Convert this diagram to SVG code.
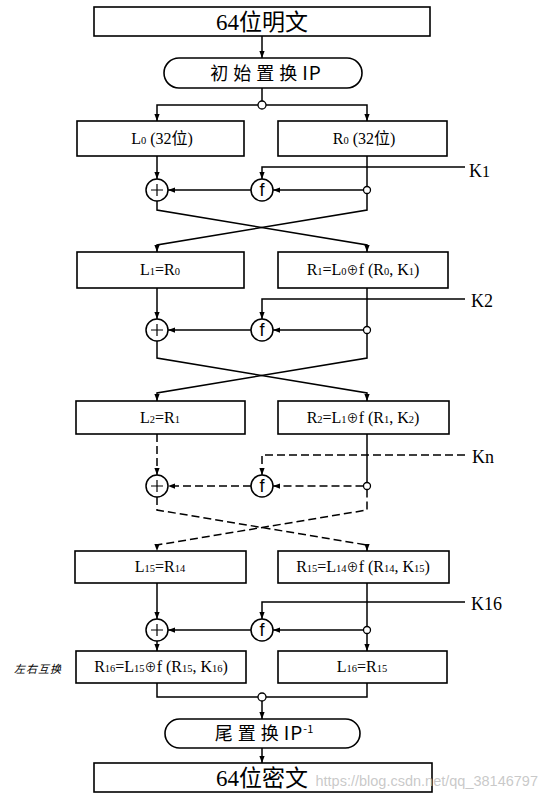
<svg xmlns="http://www.w3.org/2000/svg" width="546" height="800" viewBox="0 0 546 800">
<defs>
<marker id="ah" viewBox="0 0 8 6" refX="8" refY="3" markerWidth="7" markerHeight="6" markerUnits="userSpaceOnUse" orient="auto">
<path d="M0,0 L8,3 L0,6 z" fill="#000"/>
</marker>
<style>
.bx{fill:#fff;stroke:#000;stroke-width:1.6}
.ln{fill:none;stroke:#000;stroke-width:1.5}
.ar{fill:none;stroke:#000;stroke-width:1.5;marker-end:url(#ah)}
.dl{stroke-dasharray:8 4}
.op{fill:#fff;stroke:#000;stroke-width:1.5}
.pl{fill:none;stroke:#000;stroke-width:1.2}
.dot{fill:#fff;stroke:#000;stroke-width:1.3}
.t{font-family:"Liberation Serif","Noto Sans CJK SC",serif;font-size:16px;text-anchor:middle;fill:#000}
.big{font-family:"Liberation Serif","Noto Sans CJK SC",serif;font-size:23px;text-anchor:middle;fill:#000}
.pill{font-family:"Noto Sans CJK SC","Liberation Sans",sans-serif;font-size:18px;text-anchor:middle;fill:#000;letter-spacing:5px}
.lat{letter-spacing:1px;font-size:19px}
.k{font-family:"Liberation Serif",serif;font-size:18px;fill:#000}
.f{font-family:"Liberation Sans",sans-serif;font-size:18px;text-anchor:middle;fill:#000}
.s{font-size:10.5px}
.ox{font-size:12px}
.side{font-family:"Noto Sans CJK SC",sans-serif;font-size:11px;font-style:italic;fill:#000;letter-spacing:1px}
.wm{font-family:"Liberation Sans",sans-serif;font-size:14.5px;fill:#bbb;fill-opacity:0.8;text-anchor:end}
</style>
</defs>

<g id="plaintext"><rect class="bx" x="94" y="7" width="336" height="29"/><text class="big" x="262" y="30">64位明文</text></g>
<g id="ip"><rect class="bx" x="164" y="58" width="198" height="30" rx="15"/><text class="pill" x="266" y="80">初始置换<tspan class="lat">IP</tspan></text></g>

<g id="L0"><rect class="bx" x="77" y="121" width="167" height="35"/><text class="t" x="162" y="144">L<tspan class="s">0</tspan> (32位)</text></g>
<g id="R0"><rect class="bx" x="278" y="121" width="169" height="35"/><text class="t" x="364" y="144">R<tspan class="s">0</tspan> (32位)</text></g>

<g id="L1"><rect class="bx" x="77" y="252" width="167" height="36"/><text class="t" x="160" y="275">L<tspan class="s">1</tspan>=R<tspan class="s">0</tspan></text></g>
<g id="R1"><rect class="bx" x="278" y="252" width="170" height="36"/><text class="t" x="363" y="275">R<tspan class="s">1</tspan>=L<tspan class="s">0</tspan><tspan class="ox">⊕</tspan>f (R<tspan class="s">0</tspan>, K<tspan class="s">1</tspan>)</text></g>

<g id="L2"><rect class="bx" x="76" y="401" width="169" height="33"/><text class="t" x="160" y="423">L<tspan class="s">2</tspan>=R<tspan class="s">1</tspan></text></g>
<g id="R2"><rect class="bx" x="278" y="401" width="171" height="33"/><text class="t" x="363" y="423">R<tspan class="s">2</tspan>=L<tspan class="s">1</tspan><tspan class="ox">⊕</tspan>f (R<tspan class="s">1</tspan>, K<tspan class="s">2</tspan>)</text></g>

<g id="L15"><rect class="bx" x="75" y="551" width="171" height="32"/><text class="t" x="160" y="572">L<tspan class="s">15</tspan>=R<tspan class="s">14</tspan></text></g>
<g id="R15"><rect class="bx" x="278" y="551" width="171" height="32"/><text class="t" x="363" y="572">R<tspan class="s">15</tspan>=L<tspan class="s">14</tspan><tspan class="ox">⊕</tspan>f (R<tspan class="s">14</tspan>, K<tspan class="s">15</tspan>)</text></g>

<g id="R16"><rect class="bx" x="76" y="651" width="170" height="32"/><text class="t" x="161" y="672">R<tspan class="s">16</tspan>=L<tspan class="s">15</tspan><tspan class="ox">⊕</tspan>f (R<tspan class="s">15</tspan>, K<tspan class="s">16</tspan>)</text></g>
<g id="L16"><rect class="bx" x="278" y="651" width="169" height="32"/><text class="t" x="362" y="672">L<tspan class="s">16</tspan>=R<tspan class="s">15</tspan></text></g>
<g id="swap-label"><text class="side" x="14" y="673">左右互换</text></g>

<g id="fp"><rect class="bx" x="165" y="719" width="195" height="29" rx="14.5"/><text class="pill" x="264" y="740">尾置换<tspan class="lat">IP</tspan><tspan font-size="11" letter-spacing="0" dy="-7">-1</tspan></text></g>
<g id="ciphertext"><rect class="bx" x="94" y="763" width="338" height="29"/><text class="big" x="262" y="786">64位密文</text></g>

<g id="keys">
<text class="k" x="469" y="177">K<tspan font-size="16">1</tspan></text>
<text class="k" x="471" y="307">K2</text>
<text class="k" x="472" y="463">Kn</text>
<text class="k" x="471" y="610">K16</text>
</g>

<g id="connectors">
<line class="ar" x1="262" y1="36" x2="262" y2="58"/>
<line class="ln" x1="262" y1="88" x2="262" y2="101"/>
<polyline class="ar" points="258,105 157,105 157,121"/>
<polyline class="ar" points="266,105 367,105 367,121"/>

<line class="ar" x1="157" y1="156" x2="157" y2="179"/>
<line class="ln" x1="367" y1="156" x2="367" y2="186.5"/>
<line class="ar" x1="363.5" y1="190" x2="273" y2="190"/>
<line class="ar" x1="251" y1="190" x2="168" y2="190"/>
<polyline class="ar" points="465,167 262,167 262,179"/>
<polyline class="ar" points="157,201 157,210 367,245 367,252"/>
<polyline class="ar" points="367,193.5 367,210 157,245 157,252"/>

<line class="ar" x1="157" y1="288" x2="157" y2="319"/>
<line class="ln" x1="367" y1="288" x2="367" y2="326.5"/>
<line class="ar" x1="363.5" y1="330" x2="273" y2="330"/>
<line class="ar" x1="251" y1="330" x2="168" y2="330"/>
<polyline class="ar" points="465,299 262,299 262,319"/>
<polyline class="ar" points="157,341 157,358 367,393 367,401"/>
<polyline class="ar" points="367,333.5 367,358 157,393 157,401"/>

<line class="ar dl" x1="157" y1="434" x2="157" y2="475"/>
<line class="ln" x1="367" y1="434" x2="367" y2="482.5"/>
<line class="ar dl" x1="363.5" y1="486" x2="273" y2="486"/>
<line class="ar dl" x1="251" y1="486" x2="168" y2="486"/>
<polyline class="ar dl" points="465,455 262,455 262,475"/>
<polyline class="ar dl" points="157,497 157,510 367,545 367,551"/>
<polyline class="ar dl" points="367,489.5 367,510 157,545 157,551"/>

<line class="ar" x1="157" y1="583" x2="157" y2="619"/>
<line class="ln" x1="367" y1="583" x2="367" y2="626.5"/>
<line class="ar" x1="363.5" y1="630" x2="273" y2="630"/>
<line class="ar" x1="251" y1="630" x2="168" y2="630"/>
<polyline class="ar" points="465,602 262,602 262,619"/>
<line class="ar" x1="157" y1="641" x2="157" y2="651"/>
<line class="ar" x1="367" y1="633.5" x2="367" y2="651"/>

<polyline class="ln" points="157,683 157,697 258,697"/>
<polyline class="ln" points="367,683 367,697 266,697"/>
<line class="ar" x1="262" y1="701" x2="262" y2="719"/>
<line class="ar" x1="262" y1="748" x2="262" y2="763"/>
</g>

<g id="operators">
<circle class="dot" cx="262" cy="105" r="4"/>
<circle class="dot" cx="262" cy="697" r="4"/>
<circle class="dot" cx="367" cy="190" r="3.5"/>
<circle class="dot" cx="367" cy="330" r="3.5"/>
<circle class="dot" cx="367" cy="486" r="3.5"/>
<circle class="dot" cx="367" cy="630" r="3.5"/>

<g id="xor1"><circle class="op" cx="157" cy="190" r="11"/><path class="pl" d="M151,190 H163 M157,184 V196"/></g>
<g id="xor2"><circle class="op" cx="157" cy="330" r="11"/><path class="pl" d="M151,330 H163 M157,324 V336"/></g>
<g id="xorn"><circle class="op" cx="157" cy="486" r="11"/><path class="pl" d="M151,486 H163 M157,480 V492"/></g>
<g id="xor16"><circle class="op" cx="157" cy="630" r="11"/><path class="pl" d="M151,630 H163 M157,624 V636"/></g>

<g id="f1"><circle class="op" cx="262" cy="190" r="11"/><text class="f" x="262" y="196">f</text></g>
<g id="f2"><circle class="op" cx="262" cy="330" r="11"/><text class="f" x="262" y="336">f</text></g>
<g id="fn"><circle class="op" cx="262" cy="486" r="11"/><text class="f" x="262" y="492">f</text></g>
<g id="f16"><circle class="op" cx="262" cy="630" r="11"/><text class="f" x="262" y="636">f</text></g>
</g>

<text class="wm" x="538" y="786">https://blog.csdn.net/qq_38146797</text>
</svg>
